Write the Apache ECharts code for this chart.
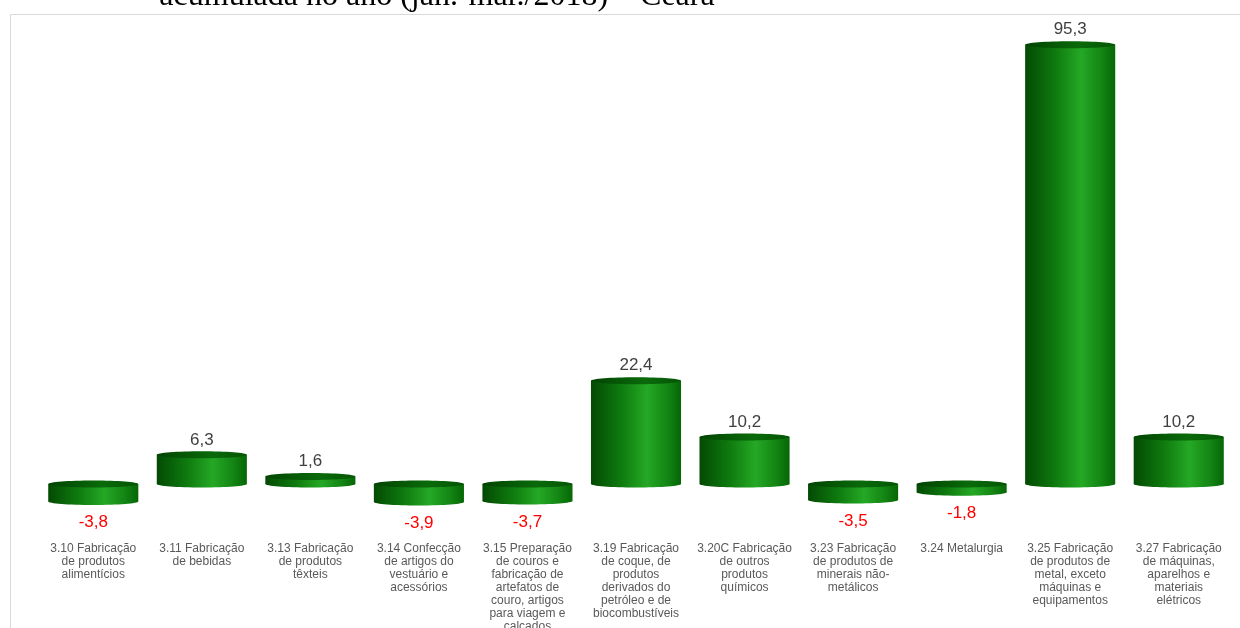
<!DOCTYPE html>
<html><head><meta charset="utf-8">
<script src="https://cdn.jsdelivr.net/npm/echarts@6/dist/echarts.min.js"></script>
<style>html,body{margin:0;padding:0;background:#fff}#c{width:1240px;height:628px}</style>
</head><body><div id="c"></div>
<script>
const categories = [
  "3.10 Fabricação\nde produtos\nalimentícios",
  "3.11 Fabricação\nde bebidas",
  "3.13 Fabricação\nde produtos\ntêxteis",
  "3.14 Confecção\nde artigos do\nvestuário e\nacessórios",
  "3.15 Preparação\nde couros e\nfabricação de\nartefatos de\ncouro, artigos\npara viagem e\ncalçados",
  "3.19 Fabricação\nde coque, de\nprodutos\nderivados do\npetróleo e de\nbiocombustíveis",
  "3.20C Fabricação\nde outros\nprodutos\nquímicos",
  "3.23 Fabricação\nde produtos de\nminerais não-\nmetálicos",
  "3.24 Metalurgia",
  "3.25 Fabricação\nde produtos de\nmetal, exceto\nmáquinas e\nequipamentos",
  "3.27 Fabricação\nde máquinas,\naparelhos e\nmateriais\nelétricos"
];
const values = [-3.8, 6.3, 1.6, -3.9, -3.7, 22.4, 10.2, -3.5, -1.8, 95.3, 10.2];
const titleText = "acumulada no ano (jan.-mar./2018) – Ceará";

const chart = echarts.init(document.getElementById('c'), null, {renderer: 'canvas'});
const bodyGrad = () => new echarts.graphic.LinearGradient(0, 0, 1, 0, [
  {offset: 0, color: '#034a03'},
  {offset: 0.35, color: '#0f7d0f'},
  {offset: 0.62, color: '#25a825'},
  {offset: 0.85, color: '#138513'},
  {offset: 1, color: '#066606'}
]);
const topGrad = () => new echarts.graphic.LinearGradient(0, 0, 1, 0, [
  {offset: 0, color: '#024402'},
  {offset: 0.6, color: '#0a6a0a'},
  {offset: 1, color: '#045504'}
]);
function fmt(v){ return v.toFixed(1).replace('.', ','); }

chart.setOption({
  animation: false,
  graphic: [
    {type: 'rect', shape: {x: 10.5, y: 14.5, width: 1240, height: 640}, style: {fill: 'none', stroke: '#d9d9d9', lineWidth: 1}, silent: true},
    {type: 'text', x: 437, y: 13, style: {text: titleText, font: '32px "Liberation Serif"', fill: '#000', align: 'center', verticalAlign: 'bottom'}}
  ],
  grid: {left: 39, right: 7, top: 23, bottom: 98, containLabel: false, outerBoundsMode: 'none'},
  xAxis: {
    type: 'category', data: categories,
    axisLine: {show: false, onZero: false}, axisTick: {show: false},
    axisLabel: {interval: 0, margin: 12, color: '#595959', fontSize: 12, lineHeight: 13, fontFamily: 'Liberation Sans'}
  },
  yAxis: {type: 'value', min: -10, max: 100, show: false, splitLine: {show: false}},
  series: [{
    type: 'custom',
    data: values.map((v, i) => [i, v]),
    renderItem: function (params, api) {
      const i = api.value(0), v = api.value(1);
      const p0 = api.coord([i, 0]);
      const p1 = api.coord([i, v]);
      const w = api.size([1, 0])[0] * 0.83;
      const cx = p0[0], rx = w / 2, ry = 3.5;
      const top = Math.min(p0[1], p1[1]);
      const bot = Math.max(p0[1], p1[1]);
      const neg = v < 0;
      const label = neg
        ? {type: 'text', x: cx, y: p1[1] + 21, style: {text: fmt(v), fill: '#ff0000', font: '17px "Liberation Sans"', align: 'center', verticalAlign: 'middle'}}
        : {type: 'text', x: cx, y: p1[1] - 15, style: {text: fmt(v), fill: '#404040', font: '17px "Liberation Sans"', align: 'center', verticalAlign: 'middle'}};
      return {
        type: 'group',
        children: [
          {type: 'ellipse', shape: {cx: cx, cy: bot, rx: rx, ry: ry}, style: {fill: bodyGrad()}},
          {type: 'rect', shape: {x: cx - rx, y: top, width: w, height: bot - top}, style: {fill: bodyGrad()}},
          {type: 'ellipse', shape: {cx: cx, cy: top, rx: rx, ry: ry}, style: {fill: topGrad()}},
          label
        ]
      };
    }
  }]
});
</script></body></html>
